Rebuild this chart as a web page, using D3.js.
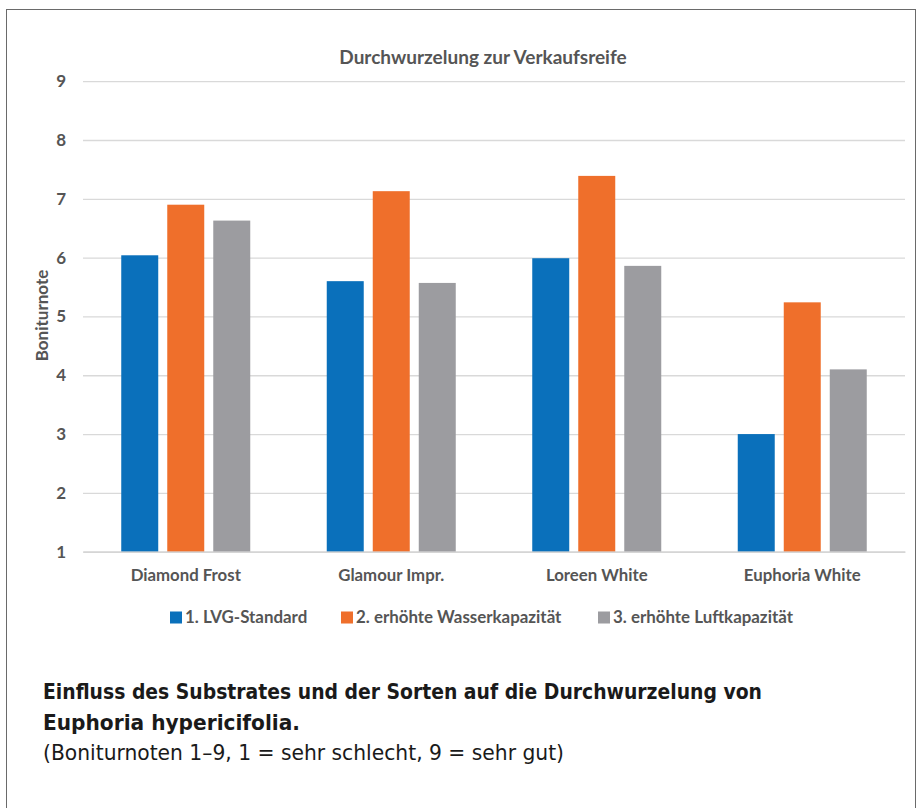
<!DOCTYPE html>
<html><head><meta charset="utf-8">
<script src="https://cdn.jsdelivr.net/npm/d3@7"></script>
<style>body{margin:0;background:#fff}svg{display:block}</style>
</head><body>
<svg id="c" width="922" height="808"></svg>
<script>
const categories = ["Diamond Frost", "Glamour Impr.", "Loreen White", "Euphoria White"];
const seriesNames = ["1. LVG-Standard", "2. erhöhte Wasserkapazität", "3. erhöhte Luftkapazität"];
const lvgStandard = [6.04, 5.60, 5.99, 3.00];
const wasserkapazitaet = [6.90, 7.13, 7.39, 5.24];
const luftkapazitaet = [6.63, 5.57, 5.86, 4.10];
const yTicks = [1, 2, 3, 4, 5, 6, 7, 8, 9];
const colors = ["#0a70bb", "#ef6f2b", "#9c9ca0"];
const chartTitle = "Durchwurzelung zur Verkaufsreife";
const yTitle = "Boniturnote";
const captionBold = ["Einfluss des Substrates und der Sorten auf die Durchwurzelung von", "Euphoria hypericifolia."];
const captionNote = "(Boniturnoten 1–9, 1 = sehr schlecht, 9 = sehr gut)";

(function () {
const seriesValues = [lvgStandard, wasserkapazitaet, luftkapazitaet];
const svg = d3.select("#c");
const font = "Lato, 'Open Sans', sans-serif";
const textCol = "#555555";

svg.append("rect").attr("x", 6.5).attr("y", 9.5).attr("width", 909).attr("height", 840)
  .attr("fill", "none").attr("stroke", "#6a6a6a").attr("stroke-width", 1);

const pLeft = 83, pRight = 905, pTop = 81.2, pBottom = 551.7;
const y = d3.scaleLinear().domain([1, 9]).range([pBottom, pTop]);
const x0 = d3.scaleBand().domain(categories).range([pLeft, pRight]).padding(0);
const groupW = 129;
const x1 = d3.scaleBand().domain(d3.range(3))
  .range([(x0.bandwidth() - groupW) / 2, (x0.bandwidth() + groupW) / 2]).paddingInner(0.196);

const yAxis = d3.axisLeft(y).tickValues(yTicks).tickSize(-(pRight - pLeft)).tickPadding(17).tickFormat(d3.format("d"));
const ga = svg.append("g").attr("transform", `translate(${pLeft},0)`).call(yAxis);
ga.select(".domain").remove();
ga.selectAll(".tick line").attr("stroke", "#d9d9d9").attr("stroke-width", 1.3);
ga.selectAll(".tick text").attr("fill", textCol).attr("font-family", font)
  .attr("font-weight", "bold").attr("font-size", 17);

const groups = svg.append("g").selectAll("g").data(categories).join("g")
  .attr("transform", d => `translate(${x0(d)},0)`);
groups.selectAll("rect").data((d, i) => seriesValues.map((s, k) => ({k, v: s[i]})))
  .join("rect")
  .attr("x", d => x1(d.k)).attr("width", x1.bandwidth())
  .attr("y", d => y(d.v)).attr("height", d => y(1) - y(d.v))
  .attr("fill", d => colors[d.k]);

const xAxis = d3.axisBottom(x0).tickSize(0).tickPadding(17);
const gx = svg.append("g").attr("transform", `translate(0,${pBottom})`).call(xAxis);
gx.select(".domain").attr("stroke", "#d0d0d0").attr("stroke-width", 1.3);
gx.selectAll(".tick text").attr("fill", textCol).attr("font-family", font)
  .attr("font-weight", "bold").attr("font-size", 16.8);

svg.append("text").attr("x", 483).attr("y", 64).attr("text-anchor", "middle")
  .attr("fill", textCol).attr("font-family", font).attr("font-weight", "bold")
  .attr("font-size", 19).text(chartTitle);

svg.append("text").attr("transform", `translate(48,315.5) rotate(-90)`)
  .attr("text-anchor", "middle").attr("fill", textCol).attr("font-family", font)
  .attr("font-weight", "bold").attr("font-size", 17).text(yTitle);

const legX = [170, 341, 598];
const leg = svg.append("g").selectAll("g").data(seriesNames).join("g")
  .attr("transform", (d, i) => `translate(${legX[i]},617.5)`);
leg.append("rect").attr("x", 0).attr("y", -6).attr("width", 12).attr("height", 12)
  .attr("fill", (d, i) => colors[i]);
leg.append("text").attr("x", 15).attr("y", 5.8).attr("fill", textCol)
  .attr("font-family", font).attr("font-weight", "bold").attr("font-size", 16.9).text(d => d);

const capFont = "'Liberation Sans Narrow', 'DejaVu Sans Condensed', sans-serif";
const capY = [699, 730];
const capLen = [719, 257];
captionBold.forEach((t, i) => {
  svg.append("text").attr("x", 43).attr("y", capY[i]).attr("fill", "#1a1a1a")
    .attr("font-family", capFont).attr("font-weight", "bold").attr("font-size", 22)
    .attr("textLength", capLen[i]).attr("lengthAdjust", "spacingAndGlyphs").text(t);
});
svg.append("text").attr("x", 43).attr("y", 760).attr("fill", "#1a1a1a")
  .attr("font-family", capFont).attr("font-size", 20.5)
  .attr("textLength", 521).attr("lengthAdjust", "spacingAndGlyphs").text(captionNote);
})();
</script>
</body></html>
